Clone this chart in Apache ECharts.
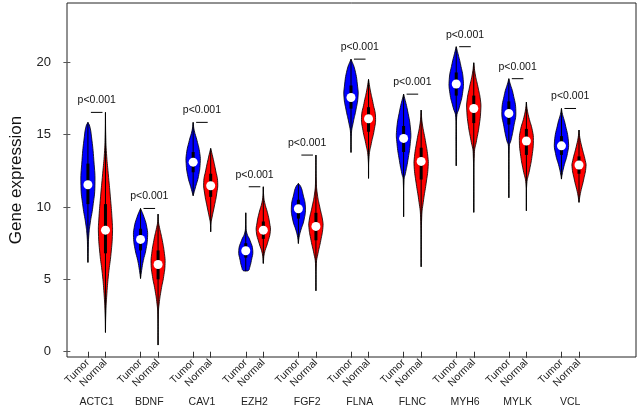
<!DOCTYPE html>
<html>
<head>
<meta charset="utf-8">
<script src="https://cdn.jsdelivr.net/npm/echarts@6/dist/echarts.min.js"></script>
<style>
  html, body { margin: 0; padding: 0; background: #fff; }
  #main { width: 639px; height: 408px; }
</style>
</head>
<body>
<div id="main"></div>
<script>
// genes on the x axis, two groups each
const genes = ['ACTC1', 'BDNF', 'CAV1', 'EZH2', 'FGF2', 'FLNA', 'FLNC', 'MYH6', 'MYLK', 'VCL'];
const groups = ['Tumor', 'Normal'];
const pLabels = ['p<0.001', 'p<0.001', 'p<0.001', 'p<0.001', 'p<0.001',
                 'p<0.001', 'p<0.001', 'p<0.001', 'p<0.001', 'p<0.001'];
const yTicks = [0, 5, 10, 15, 20];

// medians and boxes
const tumorMedian = [11.54, 7.76, 13.1, 6.98, 9.88, 17.57, 14.74, 18.5, 16.47, 14.23];
const tumorQ1 = [10.2, 7.0, 12.4, 6.5, 9.2, 16.8, 13.8, 17.7, 15.7, 13.6];
const tumorQ3 = [13.0, 8.5, 13.8, 7.5, 10.5, 18.4, 15.6, 19.3, 17.3, 14.9];
const normalMedian = [8.4, 6.03, 11.47, 8.4, 8.66, 16.1, 13.15, 16.81, 14.56, 12.9];
const normalQ1 = [6.8, 5.0, 10.7, 7.8, 7.7, 15.2, 11.9, 15.8, 13.6, 12.3];
const normalQ3 = [10.2, 7.0, 12.3, 9.0, 9.6, 16.9, 14.1, 17.7, 15.4, 13.5];

// violin outlines: [expression, relative density width], from min to max
const tumorProfile = [
  [[6.17,0],[7.2,0.05],[8.0,0.12],[8.9,0.33],[10.0,0.7],[11.5,1],[13.2,0.85],[14.9,0.5],[15.6,0.25],[15.85,0]],
  [[5.06,0],[5.6,0.15],[6.3,0.4],[7.0,0.75],[7.9,1],[8.6,0.9],[9.3,0.5],[9.9,0]],
  [[10.78,0],[11.4,0.35],[12.1,0.75],[13.0,1],[13.7,0.95],[14.6,0.55],[15.3,0.15],[15.85,0]],
  [[5.57,0],[5.62,0.4],[5.8,0.55],[6.3,0.8],[7.0,1],[7.7,0.6],[8.2,0.15],[8.8,0.03],[9.6,0]],
  [[7.48,0],[7.9,0.1],[8.4,0.35],[9.1,0.8],[10.0,1],[10.9,0.65],[11.4,0.35],[11.63,0]],
  [[13.77,0],[15.1,0.06],[15.8,0.3],[16.7,0.7],[17.6,1],[18.3,0.95],[19.5,0.55],[20.22,0]],
  [[9.33,0],[11.9,0.06],[12.3,0.25],[13.2,0.6],[14.4,0.95],[15.3,1],[16.7,0.55],[17.8,0]],
  [[12.85,0],[16.2,0.06],[16.9,0.45],[17.85,0.9],[18.8,1],[19.9,0.6],[20.6,0.25],[21.08,0]],
  [[10.64,0],[14.2,0.06],[14.6,0.3],[15.55,0.7],[16.6,1],[17.85,0.6],[18.5,0.2],[18.87,0]],
  [[11.93,0],[12.2,0.08],[12.8,0.35],[13.7,0.85],[14.5,1],[15.8,0.5],[16.4,0.15],[16.81,0]]
];
const normalProfile = [
  [[1.33,0],[2.6,0.05],[4.0,0.2],[5.4,0.45],[6.8,0.8],[8.2,1],[9.1,0.95],[10.7,0.7],[12.3,0.4],[13.7,0.15],[15.0,0.04],[16.54,0]],
  [[0.46,0],[2.6,0.04],[3.3,0.15],[4.3,0.45],[5.2,0.8],[6.1,1],[6.8,0.9],[7.7,0.6],[8.6,0.2],[9.0,0.05],[9.51,0]],
  [[8.29,0],[8.9,0.05],[9.3,0.2],[10.0,0.5],[10.9,0.85],[11.7,1],[12.55,0.7],[13.45,0.3],[14.05,0]],
  [[6.1,0],[6.8,0.15],[7.5,0.6],[8.3,1],[8.9,0.9],[9.6,0.6],[10.3,0.2],[10.8,0.05],[11.4,0]],
  [[4.21,0],[6.1,0.06],[6.8,0.3],[7.7,0.7],[8.6,1],[9.1,0.95],[10.0,0.55],[10.9,0.2],[11.8,0.05],[13.59,0]],
  [[11.98,0],[13.5,0.08],[14.4,0.4],[15.3,0.8],[16.2,1],[17.16,0.65],[18.08,0.25],[18.82,0]],
  [[5.87,0],[9.3,0.08],[10.5,0.35],[11.6,0.7],[12.8,1],[13.5,0.95],[14.6,0.6],[15.8,0.15],[16.7,0]],
  [[9.63,0],[13.7,0.08],[14.6,0.4],[15.55,0.75],[16.7,1],[17.4,0.95],[18.3,0.6],[19.2,0.2],[19.97,0]],
  [[9.74,0],[11.6,0.06],[12.55,0.45],[13.5,0.8],[14.6,1],[15.3,0.85],[16.2,0.35],[16.8,0.1],[17.25,0]],
  [[10.32,0],[10.94,0.2],[11.86,0.65],[12.8,1],[13.2,0.9],[14.16,0.4],[14.8,0.12],[15.32,0]]
];

const colors = ['#0000ff', '#ff0000'];
const FONT = '"Liberation Sans", Arial, Helvetica, sans-serif';

// violins: tumor at 3i+1, normal at 3i+2
var violins = [];
genes.forEach(function (g, i) {
  violins.push({ x: 3 * i + 1, g: 0, prof: tumorProfile[i], q1: tumorQ1[i], med: tumorMedian[i], q3: tumorQ3[i] });
  violins.push({ x: 3 * i + 2, g: 1, prof: normalProfile[i], q1: normalQ1[i], med: normalMedian[i], q3: normalQ3[i] });
});
var tickPos = violins.map(function (v) { return v.x; });
var genePos = genes.map(function (g, i) { return 3 * i + 1.5; });
var pairTop = genes.map(function (g, i) {
  return Math.max(tumorProfile[i][tumorProfile[i].length - 1][0], normalProfile[i][normalProfile[i].length - 1][0]);
});

function renderViolin(params, api) {
  var v = violins[params.dataIndex];
  var half = api.size([0.4, 0])[0];
  var right = v.prof.map(function (p) {
    var c = api.coord([v.x, p[0]]);
    return [c[0] + p[1] * half, c[1]];
  });
  var left = v.prof.slice().reverse().map(function (p) {
    var c = api.coord([v.x, p[0]]);
    return [c[0] - p[1] * half, c[1]];
  });
  var lo = api.coord([v.x, v.prof[0][0]]);
  var hi = api.coord([v.x, v.prof[v.prof.length - 1][0]]);
  var b1 = api.coord([v.x, v.q1]);
  var b3 = api.coord([v.x, v.q3]);
  var m = api.coord([v.x, v.med]);
  return {
    type: 'group',
    children: [
      { type: 'polygon', shape: { points: right.concat(left), smooth: 0.5 },
        style: { fill: colors[v.g], stroke: '#000', lineWidth: 0.8 } },
      { type: 'line', shape: { x1: lo[0], y1: lo[1], x2: hi[0], y2: hi[1] },
        style: { stroke: '#000', lineWidth: 1 } },
      { type: 'line', shape: { x1: b1[0], y1: b1[1], x2: b3[0], y2: b3[1] },
        style: { stroke: '#000', lineWidth: 3 } },
      { type: 'circle', shape: { cx: m[0], cy: m[1], r: 4.5 },
        style: { fill: '#fff' } }
    ]
  };
}

function renderP(params, api) {
  var i = params.dataIndex;
  var a = api.coord([genePos[i] - 0.33, pairTop[i]]);
  var b = api.coord([genePos[i] + 0.33, pairTop[i]]);
  return {
    type: 'group',
    children: [
      { type: 'line', shape: { x1: a[0], y1: a[1], x2: b[0], y2: b[1] },
        style: { stroke: '#000', lineWidth: 1 } },
      { type: 'text', style: { text: pLabels[i], x: (a[0] + b[0]) / 2, y: a[1] - 12,
        align: 'center', verticalAlign: 'middle', font: '10.5px ' + FONT, fill: '#111' } }
    ]
  };
}

var chart = echarts.init(document.getElementById('main'));
chart.setOption({
  animation: false,
  backgroundColor: '#fff',
  grid: { left: 65, right: 3, top: 3, bottom: 51, show: true, borderColor: '#222', borderWidth: 1 },
  xAxis: [{
    type: 'value', min: -0.193, max: 32.25,
    axisLine: { show: false }, splitLine: { show: false },
    axisTick: { show: true, customValues: tickPos, length: 6, lineStyle: { color: '#333' } },
    axisLabel: {
      customValues: tickPos, rotate: 45, margin: 4, fontSize: 10.5, fontFamily: FONT, color: '#222',
      formatter: function (val) { return groups[Math.round(val - 1) % 3]; }
    }
  }, {
    type: 'value', min: -0.193, max: 32.25, position: 'bottom',
    axisLine: { show: false }, splitLine: { show: false }, axisTick: { show: false },
    axisLabel: {
      customValues: genePos, margin: 40, fontSize: 10.5, fontFamily: FONT, color: '#222',
      formatter: function (val) { return genes[Math.round((val - 1.5) / 3)]; }
    }
  }],
  yAxis: {
    type: 'value', min: -0.366, max: 24.1,
    name: 'Gene expression', nameLocation: 'middle', nameGap: 42,
    nameTextStyle: { fontSize: 17, fontFamily: FONT, color: '#111' },
    axisLine: { show: false }, splitLine: { show: false },
    axisTick: { show: true, customValues: yTicks, length: 7, lineStyle: { color: '#555' } },
    axisLabel: { customValues: yTicks, margin: 16, fontSize: 13, fontFamily: FONT, color: '#222' }
  },
  series: [{
    type: 'custom', renderItem: renderViolin,
    data: violins.map(function (v) { return [v.x, v.med]; })
  }, {
    type: 'custom', renderItem: renderP,
    data: genes.map(function (g, i) { return [genePos[i], pairTop[i]]; })
  }]
});
</script>
</body>
</html>
